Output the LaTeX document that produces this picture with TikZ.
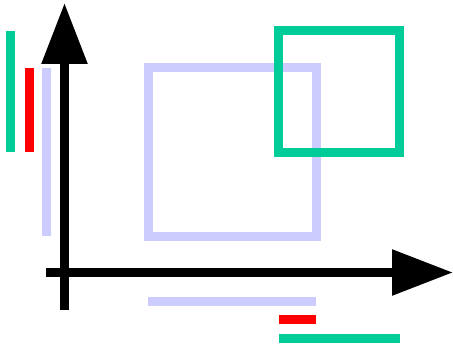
\documentclass[tikz,border=0pt]{standalone}
\usetikzlibrary{arrows.meta}
\definecolor{lav}{HTML}{CCCCFF}
\definecolor{grn}{HTML}{00CC99}
\definecolor{rd}{HTML}{FF0000}
\begin{document}
\begin{tikzpicture}[x=1pt,y=-1pt,
  bar/.style={line width=9pt},
  axis/.style={line width=9pt,-{Triangle[length=61pt,width=44pt]}}]
\useasboundingbox (0,0) rectangle (453,345);
% boxes
\draw[bar,lav] (148,68) rectangle (316,236);
\draw[bar,grn] (278.5,31) rectangle (399.5,152);
% axes
\coordinate (yb) at (64.5,310);
\coordinate (yt) at (64.5,3);
\coordinate (xb) at (46,272.5);
\coordinate (xt) at (453,272.5);
\draw[axis] (yb) -- (yt);
\draw[axis] (xb) -- (xt);
% left projections
\draw[bar,grn] (10.5,31) -- (10.5,152);
\draw[bar,rd] (29.5,68) -- (29.5,152);
\draw[bar,lav] (46,68) -- (46,236);
% bottom projections
\draw[bar,lav] (148,301.5) -- (316,301.5);
\draw[bar,rd] (279,319.5) -- (316,319.5);
\draw[bar,grn] (279,338.5) -- (399.5,338.5);
\end{tikzpicture}
\end{document}
